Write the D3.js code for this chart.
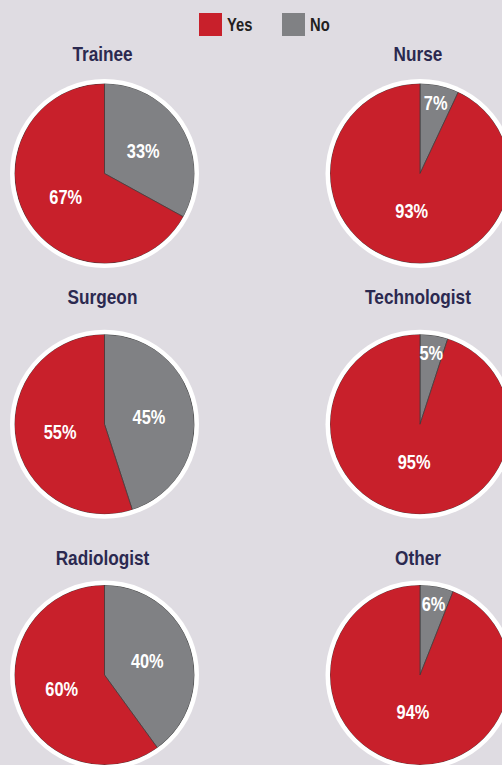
<!DOCTYPE html>
<html>
<head>
<meta charset="utf-8">
<script src="https://cdn.jsdelivr.net/npm/d3@7"></script>
<style>
  body { margin: 0; background: #dfdce2; overflow: hidden; }
  svg { display: block; font-family: "Liberation Sans Narrow", "Arial Narrow", "Liberation Sans", sans-serif; font-weight: bold; }
</style>
</head>
<body>
<div id="chart"></div>
<script>
// data
var groups = ["Trainee", "Nurse", "Surgeon", "Technologist", "Radiologist", "Other"];
var answers = ["No", "Yes"];
var noValues = [33, 7, 45, 5, 40, 6];
var yesValues = [67, 93, 55, 95, 60, 94];
var legendLabels = ["Yes", "No"];

var width = 502, height = 765;
var radius = 90;
// no narrow face installed, so squeeze the bold sans a bit
var narrow = " scale(0.82,1)";
var titleY = [61, 304, 565];

var color = d3.scaleOrdinal()
  .domain(answers)
  .range(["#808184", "#c8202b"]);

var colX = d3.scalePoint().domain([0, 1]).range([104.5, 420]);
var rowY = d3.scalePoint().domain([0, 1, 2]).range([173.5, 675]);

var svg = d3.select("#chart")
  .append("svg")
  .attr("width", width)
  .attr("height", height);

// legend
var legend = svg.append("g")
  .selectAll("g")
  .data(legendLabels)
  .enter()
  .append("g")
  .attr("transform", function (d, i) { return "translate(" + (199 + i * 83) + ",13)"; });

legend.append("rect")
  .attr("width", 23)
  .attr("height", 23)
  .attr("fill", function (d) { return color(d); });

legend.append("text")
  .attr("transform", "translate(28,18)" + narrow)
  .attr("font-size", "18px")
  .attr("fill", "#231f20")
  .text(function (d) { return d; });

var pie = d3.pie()
  .sort(null)
  .value(function (d) { return d.value; });

var arc = d3.arc().innerRadius(0).outerRadius(radius);

groups.forEach(function (name, i) {
  var row = Math.floor(i / 2);
  var cx = colX(i % 2), cy = rowY(row);
  var slices = [
    { answer: "No", value: noValues[i] },
    { answer: "Yes", value: yesValues[i] }
  ];

  var g = svg.append("g").attr("transform", "translate(" + cx + "," + cy + ")");

  svg.append("text")
    .attr("transform", "translate(" + (cx - 2) + "," + titleY[row] + ")" + narrow)
    .attr("text-anchor", "middle")
    .attr("font-size", "21px")
    .attr("fill", "#2b2950")
    .text(name);

  g.append("circle")
    .attr("r", radius + 4.5)
    .attr("fill", "white");

  var arcs = pie(slices);

  g.selectAll("path")
    .data(arcs)
    .enter()
    .append("path")
    .attr("d", arc)
    .attr("fill", function (d) { return color(d.data.answer); })
    .attr("stroke", "#3a3a3a")
    .attr("stroke-width", 0.7);

  g.append("circle")
    .attr("r", radius + 1.5)
    .attr("fill", "none")
    .attr("stroke", "white")
    .attr("stroke-width", 3);

  g.selectAll("text.pct")
    .data(arcs)
    .enter()
    .append("text")
    .attr("class", "pct")
    .attr("transform", function (d) {
      var share = d.data.value / 100;
      var lr = share < 0.1 ? 0.8 * radius : share > 0.9 ? 0.42 * radius : 0.5 * radius;
      var c = d3.arc().innerRadius(lr).outerRadius(lr).centroid(d);
      return "translate(" + c[0] + "," + c[1] + ")" + narrow;
    })
    .attr("text-anchor", "middle")
    .attr("dy", "0.36em")
    .attr("font-size", "20px")
    .attr("fill", "white")
    .text(function (d) { return d.data.value + "%"; });
});
</script>
</body>
</html>
